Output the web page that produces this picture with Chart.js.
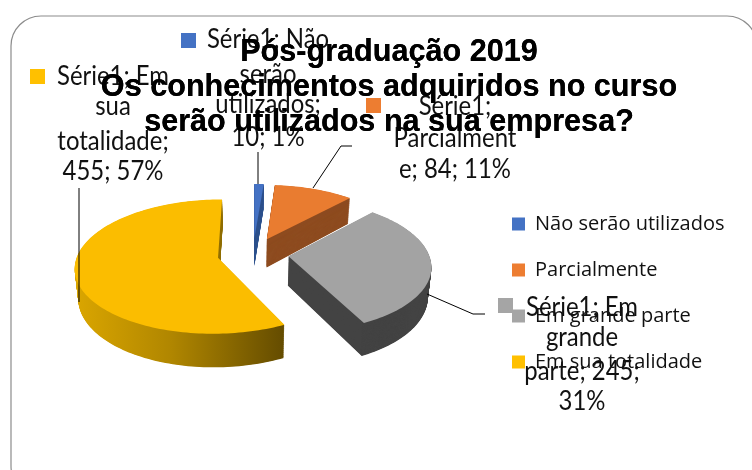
<!DOCTYPE html>
<html><head><meta charset="utf-8">
<style>html,body{margin:0;padding:0;background:#fff}#w{position:relative;width:752px;height:470px}</style>
<script src="https://cdn.jsdelivr.net/npm/chart.js@4"></script></head>
<body><div id="w"><canvas id="c" width="752" height="470"></canvas></div>
<script>
const categories = ["Não serão utilizados","Parcialmente","Em grande parte","Em sua totalidade"];
const values = [10,84,245,455];
const percents = [1,11,31,57];
const seriesName = "Série1";
const colors = ["#4472C4","#ED7D31","#A5A5A5","#FFC000"];
const topColors = ["#4472C4","#E97C30","#A3A3A3","#FBBD00"];
const sideColors = ["#2F528F","#8E4C20","#434343",null];
const titleLines = ["Pós-graduação 2019","Os conhecimentos adquiridos no curso","serão utilizados na sua empresa?"];
const labelLines = [
  [`${seriesName}; Não`,"serão","utilizados;",`${values[0]}; ${percents[0]}%`],
  [`${seriesName};`,"Parcialment",`e; ${values[1]}; ${percents[1]}%`],
  [`${seriesName}; Em`,"grande",`parte; ${values[2]};`,`${percents[2]}%`],
  [`${seriesName}; Em`,"sua","totalidade;",`${values[3]}; ${percents[3]}%`]
];

// Look of the tilted pie
const CX=253, CY=254, K=0.001, SY=0.5, GX=1.08, DEPTH=29;
function project(u,v,t){
  const w=1/(1-K*v);
  let x=u*GX*w, y=v*SY*w;
  x*=1-0.02*t; y+=DEPTH*w*t;
  return [CX+x,CY+y];
}
Chart.ArcElement.prototype.draw=function(ctx){
  const off=this.options.offset||0, R=this.outerRadius, a0=this.startAngle, a1=this.endAngle;
  const mid=(a0+a1)/2, ox=off*Math.cos(mid), oy=off*Math.sin(mid);
  const n=Math.max(4,Math.ceil((a1-a0)*40));
  const pts=[[ox,oy]];
  for(let i=0;i<=n;i++){const a=a0+(a1-a0)*i/n;pts.push([ox+R*Math.cos(a),oy+R*Math.sin(a)]);}
  const idx=this.$context?this.$context.dataIndex:0;
  let side=sideColors[idx];
  if(!side){
    const g=ctx.createLinearGradient(78,0,286,0);
    g.addColorStop(0,"#D9A500");g.addColorStop(0.45,"#B08600");g.addColorStop(1,"#634B00");
    side=g;
  }
  const poly=(t)=>{
    ctx.beginPath();
    pts.forEach((p,i)=>{const P=project(p[0],p[1],t);i?ctx.lineTo(P[0],P[1]):ctx.moveTo(P[0],P[1]);});
    ctx.closePath();ctx.fill();
  };
  ctx.save();
  ctx.fillStyle=side;
  for(let s=DEPTH*2;s>0;s--) poly(s/(DEPTH*2));
  ctx.fillStyle=topColors[idx];
  poly(0);
  ctx.restore();
};

function txt(ctx,s,x,y,sx){
  ctx.save();ctx.translate(x,y);ctx.scale(sx,1);ctx.fillText(s,0,0);ctx.restore();
}
const labelSpots=[
 {key:[181,33],cx:268,ys:[40,75,105,138]},
 {key:[366,98],cx:455,ys:[107,139,170]},
 {key:[498,298],cx:582,ys:[308,338,372,402]},
 {key:[30,69],cx:113,ys:[77,107,142,172]}
];
const leaders=[
 [[258,152],[258,184]],
 [[352,146],[341,146],[313,188]],
 [[427,294],[473,314],[485,314]],
 [[79,188],[79,302]]
];
const decor={
  id:"decor",
  beforeDraw(chart){
    const ctx=chart.ctx;
    ctx.save();
    ctx.fillStyle="#fff";ctx.fillRect(0,0,752,470);
    ctx.strokeStyle="#8c8c8c";ctx.lineWidth=1.2;
    ctx.beginPath();ctx.roundRect(11,16,746,480,30);ctx.stroke();
    ctx.restore();
  },
  afterLayout(chart){
    const L=chart.legend;
    const w=L.width,h=L.height;
    L.left=486;L.right=486+w;L.top=188;L.bottom=188+h;
    const T=chart.titleBlock;
    const tw=T.width,th=T.height;
    T.left=13;T.right=13+tw;T.top=35;T.bottom=35+th;
  }
};
const labelPlugin={
  id:"lbl",
  afterDatasetsDraw(chart){
    const ctx=chart.ctx;
    ctx.save();
    ctx.strokeStyle="#000";ctx.lineWidth=1;
    leaders.forEach(l=>{ctx.beginPath();l.forEach((p,i)=>i?ctx.lineTo(p[0],p[1]):ctx.moveTo(p[0],p[1]));ctx.stroke();});
    ctx.textAlign="center";ctx.textBaseline="middle";ctx.fillStyle="#111";
    ctx.font="26px Lato";
    labelSpots.forEach((s,i)=>{
      ctx.save();ctx.fillStyle=colors[i];ctx.fillRect(s.key[0],s.key[1],15,15);ctx.restore();
      labelLines[i].forEach((t,j)=>txt(ctx,t,s.cx,s.ys[j],0.92));
    });
    ctx.restore();
    // the title sits over the labels
    chart.titleBlock.draw();
  }
};
new Chart(document.getElementById("c"),{
  type:"pie",
  data:{labels:categories,datasets:[{data:values,backgroundColor:colors,borderWidth:0,offset:33,radius:130}]},
  plugins:[decor,labelPlugin],
  options:{
    responsive:false,animation:false,
    layout:{padding:0},
    plugins:{
      tooltip:{enabled:false},
      legend:{display:true,position:"right",align:"start",
        labels:{boxWidth:13,boxHeight:13,padding:26,color:"#111",font:{family:"'Open Sans'",size:20}}},
      title:{display:true,text:titleLines,color:"#000",font:{family:"'Liberation Sans'",size:30.6,weight:"bold",lineHeight:1.145},padding:0}
    }
  }
});
</script></body></html>
